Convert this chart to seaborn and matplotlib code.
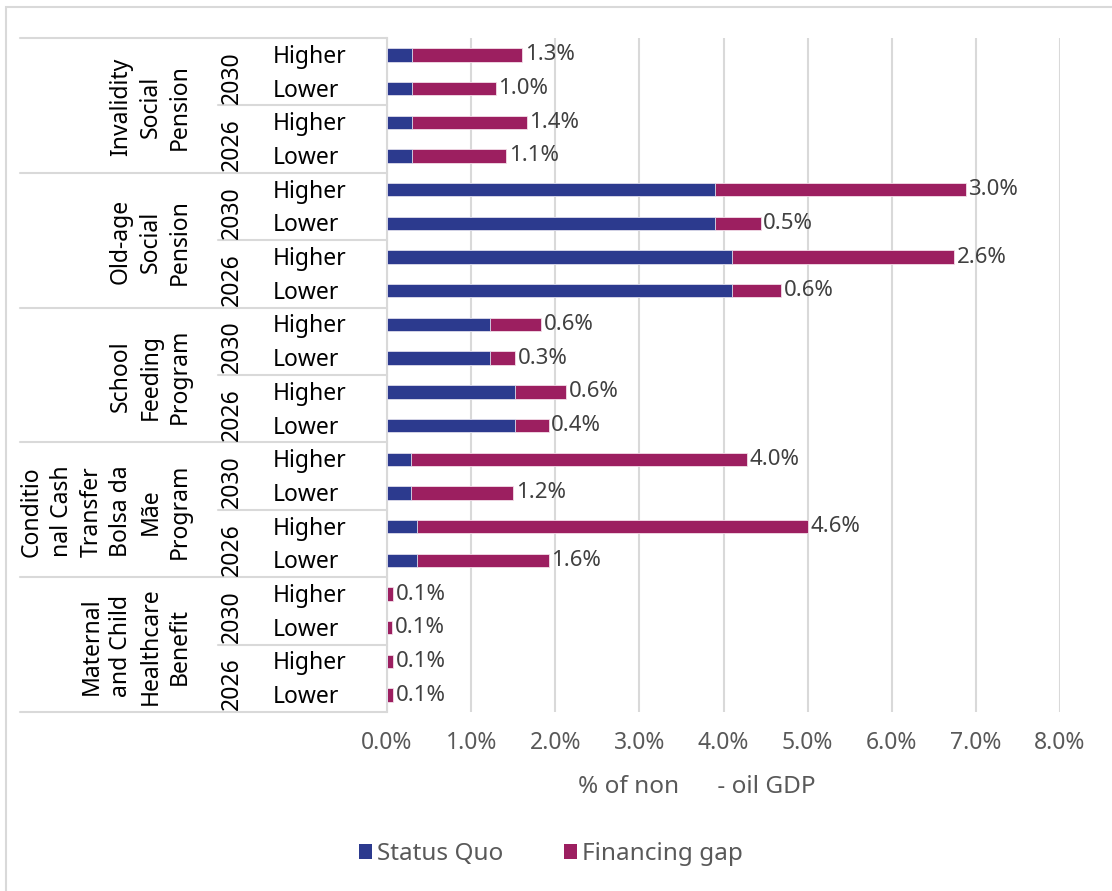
import matplotlib
matplotlib.use("Agg")
import matplotlib.pyplot as plt
import matplotlib.transforms as mtransforms
from matplotlib.patches import Rectangle, Patch
from matplotlib.lines import Line2D
import seaborn as sns
import pandas as pd

# ---- data -------------------------------------------------------------
programs = [
    "Invalidity\nSocial\nPension",
    "Old-age\nSocial\nPension",
    "School\nFeeding\nProgram",
    "Conditio\nnal Cash\nTransfer\nBolsa da\nMãe\nProgram",
    "Maternal\nand Child\nHealthcare\nBenefit",
]
years = ["2030", "2026"]
scenarios = ["Higher", "Lower"]

# one value per bar, top to bottom: program -> year -> scenario
status_quo = [
    0.30, 0.30, 0.30, 0.30,
    3.90, 3.90, 4.10, 4.10,
    1.22, 1.22, 1.52, 1.52,
    0.28, 0.28, 0.36, 0.36,
    0.00, 0.00, 0.00, 0.00,
]
financing_gap = [
    1.31, 0.99, 1.36, 1.12,
    2.98, 0.54, 2.64, 0.58,
    0.61, 0.30, 0.61, 0.40,
    4.00, 1.22, 4.64, 1.56,
    0.07, 0.06, 0.07, 0.07,
]
x_ticks = [0, 1, 2, 3, 4, 5, 6, 7, 8]
series_names = ["Status Quo", "Financing gap"]
x_title = "% of non      - oil GDP"

BLUE = "#2C3A8E"
MAGENTA = "#9C1F60"
GRID = "#d9d9d9"
GREY_TXT = "#595959"
LABEL_TXT = "#404040"

rows = []
i = 0
for p in programs:
    for y in years:
        for s in scenarios:
            rows.append({"row": f"{p}|{y}|{s}", "program": p, "year": y,
                         "scenario": s, "status_quo": status_quo[i],
                         "gap": financing_gap[i]})
            i += 1
df = pd.DataFrame(rows)
df["total"] = df["status_quo"] + df["gap"]

# ---- figure -----------------------------------------------------------
sns.set_theme(style="white")
plt.rcParams["font.family"] = ["Noto Sans", "DejaVu Sans"]

W, H = 1112, 891
fig = plt.figure(figsize=(W / 100, H / 100), dpi=100)
ax_left, ax_right, ax_top, ax_bottom = 387, 1060, 38, 712
ax = fig.add_axes([ax_left / W, 1 - ax_bottom / H,
                   (ax_right - ax_left) / W, (ax_bottom - ax_top) / H])

sns.barplot(data=df, y="row", x="total", color=MAGENTA, saturation=1,
            width=0.4, orient="h", errorbar=None, ax=ax,
            edgecolor="#f3dde8", linewidth=0.6)
sns.barplot(data=df, y="row", x="status_quo", color=BLUE, saturation=1,
            width=0.4, orient="h", errorbar=None, ax=ax,
            edgecolor="#dfe1ee", linewidth=0.6)

n = len(df)
ax.set_ylim(n - 0.5, -0.5)
ax.set_xlim(0, 8)
ax.set_xticks(x_ticks)
ax.set_xticklabels([f"{v:.1f}%" for v in x_ticks], color=GREY_TXT, fontsize=16.5)
ax.tick_params(axis="x", length=0, pad=14)
ax.tick_params(axis="y", length=0)
ax.set_yticklabels([])
ax.set_xlabel("")
ax.set_ylabel("")
ax.set_axisbelow(True)
ax.grid(axis="x", color=GRID, linewidth=1.5)
ax.grid(axis="y", visible=False)
for side in ["top", "right", "bottom"]:
    ax.spines[side].set_visible(False)
ax.spines["left"].set_color(GRID)
ax.spines["left"].set_linewidth(1.5)
ax.spines["left"].set_zorder(0.5)

# value labels: financing gap at the end of each bar
for k, r in df.iterrows():
    ax.annotate(f"{r['gap']:.1f}%", xy=(r["total"], k), xytext=(2, 0),
                textcoords="offset points", va="center", ha="left",
                fontsize=16, color=LABEL_TXT)

# ---- hierarchical category axis --------------------------------------
tr = mtransforms.blended_transform_factory(fig.transFigure, ax.transData)
x_axis = ax_left / W
x_prog_line = 20 / W
x_year_line = 218 / W

for g in range(len(programs) + 1):
    yb = g * 4 - 0.5
    fig.add_artist(Line2D([x_prog_line, x_axis], [yb, yb], transform=tr,
                          color=GRID, lw=1.5))
for g in range(len(programs)):
    yb = g * 4 + 1.5
    fig.add_artist(Line2D([x_year_line, x_axis], [yb, yb], transform=tr,
                          color=GRID, lw=1.5))

for k, r in df.iterrows():
    fig.text(273 / W, k - 0.03, r["scenario"], transform=tr, ha="left",
             va="center_baseline", fontsize=16.5, color="black")

for g, p in enumerate(programs):
    for j, y in enumerate(years):
        yc = g * 4 + j * 2 + 0.5 + 0.17
        fig.text(232 / W, yc, y, transform=tr, rotation=90, ha="center",
                 va="center", fontsize=16.5, color="black")
    fig.text(192 / W, g * 4 + 1.5 + 0.05, p, transform=tr, rotation=90,
             ha="right", va="center", multialignment="center",
             linespacing=1.31, fontsize=16.5, color="black")

# ---- axis title and legend -------------------------------------------
fig.text(697 / W, 1 - 787 / H, x_title, ha="center", va="center",
         fontsize=17.5, color=GREY_TXT)

handles = [Patch(facecolor=BLUE, edgecolor="none"),
           Patch(facecolor=MAGENTA, edgecolor="none")]
fig.legend(handles, series_names, loc="center", ncol=2,
           bbox_to_anchor=(551 / W, 1 - 854 / H), frameon=False,
           fontsize=17.5, labelcolor=GREY_TXT, handlelength=0.55,
           handleheight=0.55, handletextpad=0.2, columnspacing=2.5)

# chart area border
fig.add_artist(Rectangle((6 / W, -0.1), 1.2, 1 - 7 / H + 0.1,
                         transform=fig.transFigure, fill=False,
                         edgecolor=GRID, lw=1.5))

fig.savefig("out.png", dpi=100, facecolor="white")
